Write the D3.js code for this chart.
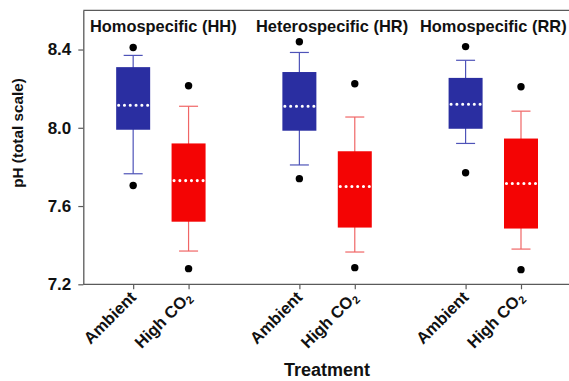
<!DOCTYPE html>
<html>
<head>
<meta charset="utf-8">
<script src="https://cdn.jsdelivr.net/npm/d3@7"></script>
<style>
  html, body { margin: 0; padding: 0; background: #fff; }
  svg { display: block; font-family: "Liberation Sans", Arial, sans-serif; }
</style>
</head>
<body>
<svg id="chart" width="569" height="381"></svg>
<script>
// Seawater pH per treatment within each pairing group
const groups = ["Homospecific (HH)", "Heterospecific (HR)", "Homospecific (RR)"];
const treatments = ["Ambient", "High CO2"];
// Order: HH-Ambient, HH-High, HR-Ambient, HR-High, RR-Ambient, RR-High
const slotIndex   = [1, 2, 4, 5, 7, 8];
const q1          = [7.990, 7.520, 7.985, 7.490, 7.995, 7.485];
const medians     = [8.115, 7.730, 8.110, 7.700, 8.120, 7.715];
const q3          = [8.310, 7.920, 8.285, 7.880, 8.255, 7.945];
const whiskerLow  = [7.765, 7.370, 7.810, 7.365, 7.920, 7.380];
const whiskerHigh = [8.370, 8.110, 8.385, 8.055, 8.345, 8.085];
const outlierLow  = [7.705, 7.280, 7.740, 7.285, 7.770, 7.275];
const outlierHigh = [8.410, 8.215, 8.440, 8.225, 8.415, 8.210];
const yTicks = [7.2, 7.6, 8.0, 8.4];

const boxFill = { "Ambient": "#2a2ea1", "High CO2": "#f40404" };
const whiskerColor = { "Ambient": "#4e53b8", "High CO2": "#f06666" };

const rows = slotIndex.map((s, i) => ({
  slot: s,
  group: groups[Math.floor(i / 2)],
  treatment: treatments[i % 2],
  q1: q1[i], median: medians[i], q3: q3[i],
  lo: whiskerLow[i], hi: whiskerHigh[i],
  outliers: [outlierLow[i], outlierHigh[i]]
}));

const svg = d3.select("#chart");
const plotLeft = 83.3, plotTop = 10.4, plotBottom = 284.3, plotRight = 569;

const x = d3.scaleLinear().domain([0.1, 9]).range([plotLeft, 576.4]);
const y = d3.scaleLinear().domain([7.2, 8.6]).range([plotBottom, plotTop]);

const boxW = 34, capW = 19;
const axisColor = "#5a5a5a";

// Frame: top border line
svg.append("line")
  .attr("x1", plotLeft).attr("x2", plotRight)
  .attr("y1", plotTop).attr("y2", plotTop)
  .attr("stroke", axisColor).attr("stroke-width", 1.3);

// Boxes
const box = svg.append("g").selectAll("g").data(rows).join("g");

box.append("line")
  .attr("x1", d => x(d.slot)).attr("x2", d => x(d.slot))
  .attr("y1", d => y(d.hi)).attr("y2", d => y(d.lo))
  .attr("stroke", d => whiskerColor[d.treatment]).attr("stroke-width", 1.2);

box.selectAll(".cap").data(d => [d.lo, d.hi].map(v => ({ v, d }))).join("line")
  .attr("class", "cap")
  .attr("x1", c => x(c.d.slot) - capW / 2).attr("x2", c => x(c.d.slot) + capW / 2)
  .attr("y1", c => y(c.v)).attr("y2", c => y(c.v))
  .attr("stroke", c => whiskerColor[c.d.treatment]).attr("stroke-width", 1.2);

box.append("rect")
  .attr("x", d => x(d.slot) - boxW / 2)
  .attr("width", boxW)
  .attr("y", d => y(d.q3))
  .attr("height", d => y(d.q1) - y(d.q3))
  .attr("fill", d => boxFill[d.treatment]);

// Dotted white median
box.append("line")
  .attr("x1", d => x(d.slot) - boxW / 2 + 2.5)
  .attr("x2", d => x(d.slot) + boxW / 2 - 2)
  .attr("y1", d => y(d.median)).attr("y2", d => y(d.median))
  .attr("stroke", "#fff").attr("stroke-width", 3.1)
  .attr("stroke-linecap", "round")
  .attr("stroke-dasharray", "0 5.8");

box.selectAll(".out").data(d => d.outliers.map(v => ({ v, d }))).join("circle")
  .attr("class", "out")
  .attr("cx", c => x(c.d.slot)).attr("cy", c => y(c.v))
  .attr("r", 3.7).attr("fill", "#000");

// Y axis
const yAxis = svg.append("g")
  .attr("transform", `translate(${plotLeft},0)`)
  .call(d3.axisLeft(y).tickValues(yTicks).tickFormat(d3.format(".1f"))
    .tickSize(5).tickSizeOuter(0).tickPadding(7));
yAxis.select(".domain").attr("stroke", axisColor).attr("stroke-width", 1.3);
yAxis.selectAll(".tick line").attr("stroke", axisColor).attr("stroke-width", 1.2);
yAxis.selectAll(".tick text")
  .attr("font-size", 17).attr("font-weight", "bold").attr("fill", "#111");

// X axis
const xAxis = svg.append("g")
  .attr("transform", `translate(0,${plotBottom})`)
  .call(d3.axisBottom(x).tickValues(slotIndex).tickFormat("").tickSize(5).tickSizeOuter(0));
xAxis.select(".domain").remove();
xAxis.selectAll(".tick line").attr("stroke", axisColor).attr("stroke-width", 1.2);
svg.append("line")
  .attr("x1", plotLeft).attr("x2", plotRight)
  .attr("y1", plotBottom).attr("y2", plotBottom)
  .attr("stroke", axisColor).attr("stroke-width", 1.3);

// Rotated treatment labels
const xl = svg.append("g").selectAll("text").data(rows).join("text")
  .attr("transform", d => `translate(${x(d.slot) + 4},${plotBottom + 14}) rotate(-45)`)
  .attr("text-anchor", "end")
  .attr("font-size", 16.5).attr("font-weight", "bold").attr("fill", "#111");
xl.each(function (d) {
  const t = d3.select(this);
  if (d.treatment === "High CO2") {
    t.append("tspan").text("High CO");
    t.append("tspan").attr("font-size", 11).attr("dy", 3).text("2");
  } else {
    t.text(d.treatment);
  }
});

// Group titles
const titleX = [90, 256, 420];
svg.append("g").selectAll("text").data(groups).join("text")
  .attr("x", (d, i) => titleX[i]).attr("y", 32)
  .attr("font-size", 16.4).attr("font-weight", "bold").attr("fill", "#111")
  .text(d => d);

// Axis titles
svg.append("text")
  .attr("transform", "translate(23,133) rotate(-90)")
  .attr("text-anchor", "middle")
  .attr("font-size", 15.3).attr("font-weight", "bold").attr("fill", "#111")
  .text("pH (total scale)");

svg.append("text")
  .attr("x", 327).attr("y", 376)
  .attr("text-anchor", "middle")
  .attr("font-size", 18).attr("font-weight", "bold").attr("fill", "#111")
  .text("Treatment");
</script>
</body>
</html>
